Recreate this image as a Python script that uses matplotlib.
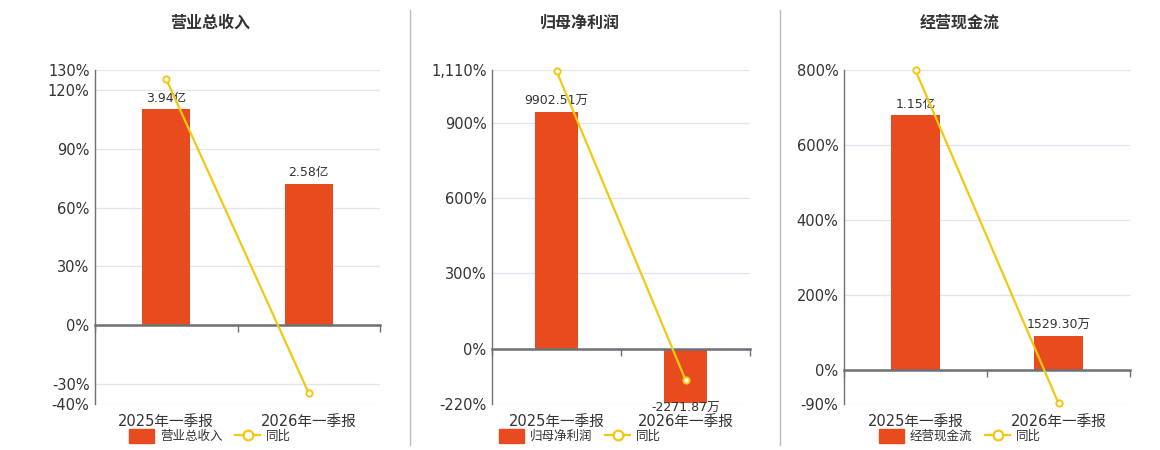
import numpy as np
import matplotlib
matplotlib.use('Agg')
import matplotlib.pyplot as plt
from matplotlib.lines import Line2D
from matplotlib.patches import Patch
from matplotlib.ticker import FuncFormatter, FixedLocator

plt.rcParams['font.family'] = ['DejaVu Sans', 'Noto Sans CJK SC']

categories = ['2025年一季报', '2026年一季报']

titles = ['营业总收入', '归母净利润', '经营现金流']

# bar values (panel 1 in 亿, panels 2-3 in 万)
revenue = [3.94, 2.58]
revenue_labels = ['3.94亿', '2.58亿']
profit = [9902.51, -2271.87]
profit_labels = ['9902.51万', '-2271.87万']
cashflow = [11500.0, 1529.30]
cashflow_labels = ['1.15亿', '1529.30万']

# year-on-year change, %
revenue_yoy = [125.3, -34.5]
profit_yoy = [1106.0, -124.0]
cashflow_yoy = [799.0, -88.0]

pct_ticks = [
    [-40, -30, 0, 30, 60, 90, 120, 130],
    [-220, 0, 300, 600, 900, 1110],
    [-90, 0, 200, 400, 600, 800],
]

# bar axis units per percent, so zero lines line up
bar_scale = [3.94 / 110.2, 9902.51 / 944.0, 11500.0 / 680.0]

panels = [
    (revenue, revenue_labels, revenue_yoy),
    (profit, profit_labels, profit_yoy),
    (cashflow, cashflow_labels, cashflow_yoy),
]

bar_color = '#E84C1E'
line_color = '#F2C811'
axis_color = '#6E7079'
grid_color = '#E0E6F1'
text_color = '#333333'

W, H = 1160, 450
fig = plt.figure(figsize=(W / 100, H / 100), dpi=100)

ax_px = [(95, 380), (492, 750), (844, 1130)]
centers_px = [210, 580, 960]
top_px, bot_px = 70, 404

for i, ((vals, labels, yoy), ticks) in enumerate(zip(panels, pct_ticks)):
    l, r = ax_px[i]
    rect = [l / W, 1 - bot_px / H, (r - l) / W, (bot_px - top_px) / H]
    x = np.arange(len(categories))
    xlim = (-0.5, len(categories) - 0.5)
    ymin, ymax = ticks[0], ticks[-1]

    # base axes: grid, y ticks, category labels
    ax = fig.add_axes(rect)
    ax.set_xlim(*xlim)
    ax.set_ylim(ymin, ymax)
    ax.yaxis.set_major_locator(FixedLocator(ticks))
    ax.yaxis.set_major_formatter(FuncFormatter(lambda v, p: f'{v:,.0f}%'))
    ax.grid(axis='y', color=grid_color, lw=0.9)
    ax.tick_params(axis='y', length=0, labelsize=10.5, colors=text_color, pad=4)
    ax.set_xticks(x)
    ax.set_xticklabels(categories)
    ax.tick_params(axis='x', length=0, labelsize=10.5, colors=text_color, pad=7)
    for s in ['top', 'right', 'bottom']:
        ax.spines[s].set_visible(False)
    ax.spines['left'].set_color(axis_color)
    ax.spines['left'].set_linewidth(1)

    # bars on their own value axis
    ax2 = fig.add_axes(rect, facecolor='none')
    k = bar_scale[i]
    ax2.set_xlim(*xlim)
    ax2.set_ylim(ymin * k, ymax * k)
    bars = ax2.bar(x, vals, width=0.34, color=bar_color, zorder=2)
    ax2.bar_label(bars, labels=[t if v >= 0 else '' for v, t in zip(vals, labels)],
                  padding=3, fontsize=9, color=text_color)
    ax2.bar_label(bars, labels=[t if v < 0 else '' for v, t in zip(vals, labels)],
                  padding=-1, fontsize=9, color=text_color)
    ax2.axis('off')

    # yoy line + zero axis line
    ax3 = fig.add_axes(rect, facecolor='none')
    ax3.set_ylim(ymin, ymax)
    ax3.set_xlim(*xlim)
    ax3.plot(x, yoy, color=line_color, lw=1.6, marker='o', ms=4.5,
             mfc='white', mec=line_color, mew=1.4, zorder=3, clip_on=False)
    for s in ['top', 'right', 'left']:
        ax3.spines[s].set_visible(False)
    ax3.spines['bottom'].set_position(('data', 0))
    ax3.spines['bottom'].set_color(axis_color)
    ax3.spines['bottom'].set_linewidth(1.8)
    ax3.set_yticks([])
    ax3.set_xticks(np.arange(-0.5, len(categories)))
    ax3.set_xticklabels([])
    ax3.tick_params(axis='x', length=5, width=1, color=axis_color, direction='out')

    fig.text(centers_px[i] / W, 1 - 23 / H, titles[i], ha='center', va='center',
             fontsize=11.5, fontweight='bold', color=text_color)

    handles = [
        Patch(facecolor=bar_color, edgecolor=bar_color),
        Line2D([], [], color=line_color, lw=1.6, marker='o', ms=7,
               mfc='white', mec=line_color, mew=1.6),
    ]
    fig.legend(handles, [titles[i], '同比'], loc='center',
               bbox_to_anchor=(centers_px[i] / W, 1 - 436 / H), ncol=2,
               frameon=False, fontsize=9, labelcolor=text_color,
               handlelength=2.0, handleheight=1.3, handletextpad=0.5,
               columnspacing=1.0)

for xs in [410, 780]:
    fig.add_artist(Line2D([xs / W, xs / W], [1 - 445 / H, 1 - 10 / H],
                          transform=fig.transFigure, color='#BBBBBB', lw=1))

fig.savefig('out.png', dpi=100)
